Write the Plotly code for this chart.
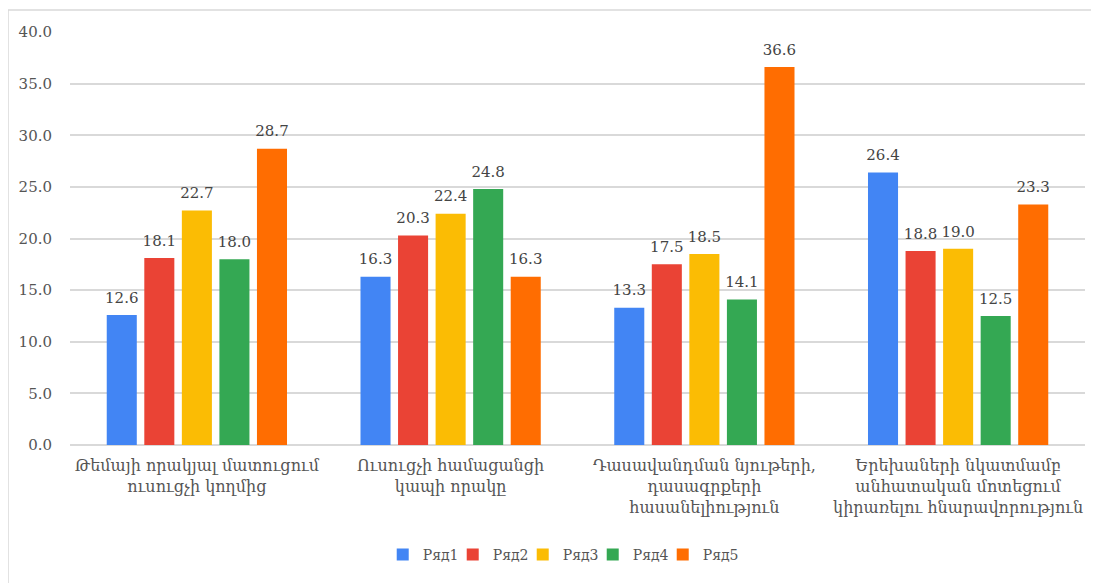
import plotly.graph_objects as go

categories = [
    "Թեմայի որակյալ մատուցում<br>ուսուցչի կողմից",
    "Ուսուցչի համացանցի<br>կապի որակը",
    "Դասավանդման նյութերի,<br>դասագրքերի<br>հասանելիություն",
    "Երեխաների նկատմամբ<br>անհատական մոտեցում<br>կիրառելու հնարավորություն",
]
series_names = ["Ряд1", "Ряд2", "Ряд3", "Ряд4", "Ряд5"]
ryad1 = [12.6, 16.3, 13.3, 26.4]
ryad2 = [18.1, 20.3, 17.5, 18.8]
ryad3 = [22.7, 22.4, 18.5, 19.0]
ryad4 = [18.0, 24.8, 14.1, 12.5]
ryad5 = [28.7, 16.3, 36.6, 23.3]
y_ticks = [0, 5, 10, 15, 20, 25, 30, 35, 40]

colors = ["#4285F4", "#EA4335", "#FBBC04", "#34A853", "#FF6D01"]
serif = "DejaVu Serif, Liberation Serif, serif"

fig = go.Figure()
for i, (name, vals, col) in enumerate(zip(series_names, [ryad1, ryad2, ryad3, ryad4, ryad5], colors)):
    fig.add_trace(go.Bar(
        x=categories, y=vals, name=name, marker_color=col, marker_line_width=0,
        offsetgroup=str(i), hoverinfo="y",
    ))
# value labels, grouped like the bars
for i, vals in enumerate([ryad1, ryad2, ryad3, ryad4, ryad5]):
    fig.add_trace(go.Scatter(
        x=categories, y=vals, mode="markers+text", offsetgroup=str(i),
        marker=dict(size=12, color="rgba(0,0,0,0)"),
        text=[f"{v:.1f}" for v in vals], textposition="top center",
        textfont=dict(family=serif, size=15, color="#444444"),
        showlegend=False, hoverinfo="skip", cliponaxis=False,
    ))
# empty legend spacer so the last legend label is not clipped
fig.add_trace(go.Scatter(x=[None], y=[None], mode="markers", name="",
                         marker=dict(color="rgba(0,0,0,0)"), hoverinfo="skip"))

# page body has an 8px default margin, so the figure starts at (8, 8)
W, H = 1091, 575
l, r, t, b = 62, 14, 24, 138
pw, ph = W - l - r, H - t - b

fig.update_layout(
    width=W, height=H,
    margin=dict(l=l, r=r, t=t, b=b),
    paper_bgcolor="white", plot_bgcolor="white",
    barmode="group", bargap=0.26, bargroupgap=0.2,
    scattermode="group", scattergap=0.26,
    showlegend=True,
    legend=dict(orientation="h", x=0.515, xanchor="center", y=-(555 - 445) / ph, yanchor="middle",
                font=dict(family=serif, size=14, color="#555555"),
                itemwidth=30, entrywidth=25, entrywidthmode="pixels", traceorder="normal"),
    font=dict(family=serif, color="#555555"),
    xaxis=dict(tickfont=dict(family=serif, size=16, color="#555555"),
               showgrid=False, showline=False, ticks="outside", ticklen=6,
               tickcolor="rgba(0,0,0,0)"),
    yaxis=dict(range=[0, 40], tickvals=y_ticks, ticktext=[f"{v:.1f}" for v in y_ticks],
               tickfont=dict(family=serif, size=15, color="#555555"),
               showgrid=True, gridcolor="#d9d9d9", gridwidth=1.5,
               zeroline=True, zerolinecolor="#d9d9d9", zerolinewidth=1.5,
               ticks="outside", ticklen=14, tickcolor="rgba(0,0,0,0)"),
    shapes=[dict(type="rect", xref="paper", yref="paper",
                 x0=-l / pw, x1=1.05, y0=-(b + 20) / ph, y1=1 + (t - 2) / ph,
                 line=dict(color="#d9d9d9", width=1.5), fillcolor="rgba(0,0,0,0)", layer="below")],
)

fig.write_html("out.html")
